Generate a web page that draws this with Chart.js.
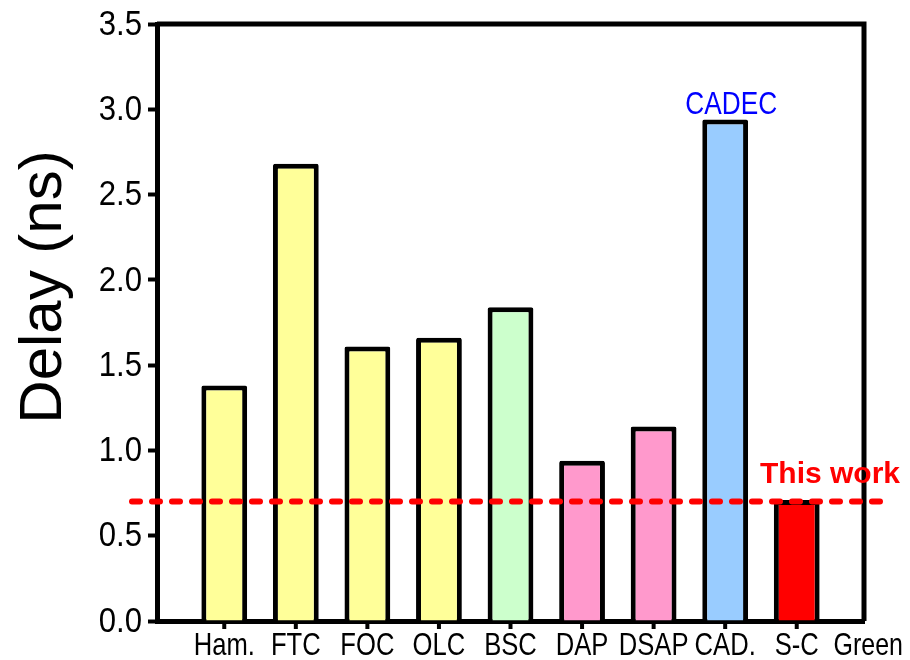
<!DOCTYPE html>
<html>
<head>
<meta charset="utf-8">
<script src="https://cdn.jsdelivr.net/npm/chart.js@4/dist/chart.umd.min.js"></script>
<style>
  html, body { margin: 0; padding: 0; background: #fff; }
  #wrap { width: 910px; height: 660px; }
</style>
</head>
<body>
<div id="wrap"><canvas id="chartDelay"></canvas></div>
<script>
/* Delay comparison */
const categories = ['Ham.', 'FTC', 'FOC', 'OLC', 'BSC', 'DAP', 'DSAP', 'CAD.', 'S-C'];
const extraLabel = 'Green';
const delays = [1.38, 2.68, 1.61, 1.66, 1.84, 0.94, 1.14, 2.94, 0.71];
const barColors = ['#FFFF99', '#FFFF99', '#FFFF99', '#FFFF99', '#CCFFCC', '#FF99CC', '#FF99CC', '#99CCFF', '#FF0000'];
const yTicks = [0, 0.5, 1.0, 1.5, 2.0, 2.5, 3.0, 3.5];
const thisWork = 0.70;

const sans = "'Liberation Sans', Arial, sans-serif";

// text squeezed sideways, the figure uses a narrow face
const narrowText = (ctx, text, x, y, size, squeeze, align) => {
  ctx.save();
  ctx.font = size + 'px ' + sans;
  ctx.textAlign = align;
  ctx.translate(x, y);
  ctx.scale(squeeze, 1);
  ctx.fillText(text, 0, 0);
  ctx.restore();
};

// frame, tick labels, dashed line and the text notes
const notes = {
  id: 'notes',
  afterDatasetsDraw(chart) {
    const { ctx, chartArea, scales } = chart;
    const xs = scales.x, ys = scales.y;
    ctx.save();

    // box round the plot
    ctx.strokeStyle = '#000';
    ctx.lineWidth = 5;
    ctx.beginPath();
    ctx.moveTo(chartArea.left, chartArea.top);
    ctx.lineTo(chartArea.right, chartArea.top);
    ctx.lineTo(chartArea.right, chartArea.bottom);
    ctx.stroke();

    // tick marks under the bars
    ctx.lineWidth = 4;
    categories.forEach((c, i) => {
      const px = xs.getPixelForValue(i);
      ctx.beginPath();
      ctx.moveTo(px, chartArea.bottom);
      ctx.lineTo(px, chartArea.bottom + 8);
      ctx.stroke();
    });

    // tick labels
    ctx.fillStyle = '#000';
    ctx.textBaseline = 'alphabetic';
    categories.forEach((c, i) => {
      narrowText(ctx, c, xs.getPixelForValue(i), chartArea.bottom + 34, 32, 0.8, 'center');
    });
    narrowText(ctx, extraLabel, xs.getPixelForValue(categories.length), chartArea.bottom + 34, 32, 0.78, 'center');

    ctx.textBaseline = 'middle';
    yTicks.forEach((v) => {
      narrowText(ctx, v.toFixed(1), chartArea.left - 15, ys.getPixelForValue(v) + 1, 35, 0.89, 'right');
    });

    // This work line
    const yLine = ys.getPixelForValue(thisWork);
    ctx.strokeStyle = '#FF0000';
    ctx.lineWidth = 6;
    ctx.lineCap = 'round';
    ctx.setLineDash([8, 12]);
    ctx.beginPath();
    ctx.moveTo(chartArea.left - 25, yLine);
    ctx.lineTo(chartArea.right + 26, yLine);
    ctx.stroke();
    ctx.setLineDash([]);

    ctx.fillStyle = '#FF0000';
    ctx.font = 'bold 30px ' + sans;
    ctx.textAlign = 'right';
    ctx.textBaseline = 'alphabetic';
    ctx.fillText('This work', chartArea.right + 36, yLine - 19);

    // CADEC over its bar
    const bar = chart.getDatasetMeta(0).data[7];
    ctx.fillStyle = '#0000FF';
    narrowText(ctx, 'CADEC', bar.x + 6, bar.y - 6, 32, 0.82, 'center');

    // y title
    ctx.fillStyle = '#000';
    ctx.translate(44, 287);
    ctx.rotate(-Math.PI / 2);
    ctx.font = '60px ' + sans;
    ctx.textAlign = 'center';
    ctx.textBaseline = 'middle';
    ctx.fillText('Delay (ns)', 0, 0);
    ctx.restore();
  },
};

const ctx = document.getElementById('chartDelay').getContext('2d');
const chartDelay = new Chart(ctx, {
  type: 'bar',
  data: {
    datasets: [
      {
        data: delays.map((v, i) => ({ x: i, y: v })),
        backgroundColor: barColors,
        borderColor: '#000',
        borderWidth: 5,
        borderRadius: 2,
        borderSkipped: 'start',
        categoryPercentage: 1,
        barPercentage: 0.64,
      },
    ],
  },
  options: {
    responsive: true,
    maintainAspectRatio: false,
    animation: false,
    layout: { padding: { top: 24, right: 46, left: 0, bottom: 0 } },
    plugins: {
      legend: { display: false },
      tooltip: { enabled: false },
    },
    scales: {
      x: {
        type: 'linear',
        offset: false,
        min: -0.94,
        max: categories.length - 0.06,
        afterBuildTicks: (scale) => {
          scale.ticks = categories.map((c, i) => ({ value: i }));
        },
        afterFit: (scale) => {
          scale.height = 39;
        },
        ticks: { display: false },
        grid: { display: false },
        border: { color: '#000', width: 5 },
      },
      y: {
        min: 0,
        max: 3.5,
        afterBuildTicks: (scale) => {
          scale.ticks = yTicks.map((v) => ({ value: v }));
        },
        afterFit: (scale) => {
          scale.width = 157;
        },
        ticks: { display: false },
        grid: {
          drawOnChartArea: false,
          drawTicks: true,
          tickLength: 9,
          tickWidth: 4,
          tickColor: '#000',
        },
        border: { color: '#000', width: 5 },
      },
    },
  },
  plugins: [notes],
});
</script>
</body>
</html>
